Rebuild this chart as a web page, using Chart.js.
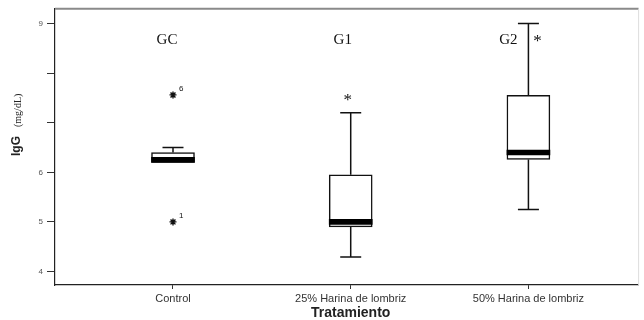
<!DOCTYPE html>
<html>
<head>
<meta charset="utf-8">
<script src="https://cdn.jsdelivr.net/npm/chart.js@4/dist/chart.umd.min.js"></script>
<style>
  html, body { margin: 0; padding: 0; background: #ffffff; }
  #wrap { width: 644px; height: 320px; position: relative; }
</style>
</head>
<body>
<div id="wrap"><canvas id="boxChart"></canvas></div>
<script>
const categories = ['Control', '25% Harina de lombriz', '50% Harina de lombriz'];
const groupLabels = ['GC', 'G1', 'G2'];

// box plot summaries per group (IgG mg/dL)
const whiskerLow = [6.20, 4.29, 5.25];
const quartile1 = [6.20, 4.90, 6.26];
const medians = [6.25, 5.00, 6.40];
const quartile3 = [6.40, 5.95, 7.55];
const whiskerHigh = [6.50, 7.20, 9.00];

// outliers (group index is 1-based), with case numbers
const outlierGroup = [1, 1];
const outlierValue = [7.56, 5.00];
const outlierCase = ['6', '1'];

// significance asterisks
const sigGroup = [2, 3];
const sigValue = [7.50, 8.70];

const yTicks = [4, 5, 6, 7, 8, 9];
const yTickLabels = ['4', '5', '6', '', '', '9'];

const BOX_WIDTH = 43;
const CAP_WIDTH = 21;

const boxExtras = {
  id: 'boxExtras',
  beforeDatasetsDraw(chart) {
    const { ctx, scales: { x, y } } = chart;
    ctx.save();
    ctx.strokeStyle = '#111111';
    ctx.lineWidth = 1.5;
    categories.forEach((_, i) => {
      const cx = x.getPixelForValue(i + 1);
      const segments = [
        [quartile3[i], whiskerHigh[i]],
        [quartile1[i], whiskerLow[i]],
      ];
      segments.forEach(([from, to]) => {
        if (Math.abs(to - from) < 0.001) {
          return;
        }
        const y0 = y.getPixelForValue(from);
        const y1 = y.getPixelForValue(to);
        ctx.beginPath();
        ctx.moveTo(cx, y0);
        ctx.lineTo(cx, y1);
        ctx.moveTo(cx - CAP_WIDTH / 2, y1);
        ctx.lineTo(cx + CAP_WIDTH / 2, y1);
        ctx.stroke();
      });
    });
    ctx.restore();
  },
  afterDraw(chart) {
    const { ctx, chartArea, scales: { x, y } } = chart;
    ctx.save();

    // frame: top and right edges
    ctx.strokeStyle = '#8a8a8a';
    ctx.lineWidth = 2;
    ctx.beginPath();
    ctx.moveTo(chartArea.left, chartArea.top);
    ctx.lineTo(chartArea.right, chartArea.top);
    ctx.stroke();
    ctx.strokeStyle = '#dddddd';
    ctx.lineWidth = 1;
    ctx.beginPath();
    ctx.moveTo(chartArea.right, chartArea.top);
    ctx.lineTo(chartArea.right, chartArea.bottom);
    ctx.stroke();

    // group labels
    const labelShift = [-6, -8, -20];
    ctx.fillStyle = '#111111';
    ctx.font = '15px "Liberation Serif", "Times New Roman", serif';
    ctx.textAlign = 'center';
    ctx.textBaseline = 'middle';
    groupLabels.forEach((label, i) => {
      ctx.fillText(label, x.getPixelForValue(i + 1) + labelShift[i], 40);
    });

    // significance asterisks
    const sigShift = [-3, 9];
    ctx.font = '17px "Liberation Serif", "Times New Roman", serif';
    sigGroup.forEach((g, i) => {
      ctx.fillText('*', x.getPixelForValue(g) + sigShift[i], y.getPixelForValue(sigValue[i]) + 3);
    });

    // outlier case numbers
    ctx.font = '8px "Liberation Sans", Arial, sans-serif';
    ctx.textAlign = 'left';
    outlierGroup.forEach((g, i) => {
      ctx.fillText(outlierCase[i], x.getPixelForValue(g) + 6, y.getPixelForValue(outlierValue[i]) - 6);
    });

    // x axis title
    ctx.font = 'bold 14px "Liberation Sans", Arial, sans-serif';
    ctx.textAlign = 'center';
    ctx.fillStyle = '#222222';
    ctx.fillText('Tratamiento', x.getPixelForValue(2), 313);

    // y axis title, rotated
    ctx.translate(20, 156);
    ctx.rotate(-Math.PI / 2);
    ctx.textAlign = 'left';
    ctx.textBaseline = 'alphabetic';
    ctx.font = 'bold 12px "Liberation Sans", Arial, sans-serif';
    ctx.fillText('IgG', 0, 0);
    const igWidth = ctx.measureText('IgG').width;
    ctx.font = '10px "Liberation Serif", "Times New Roman", serif';
    ctx.fillText('(mg/dL)', igWidth + 9, 1);

    ctx.restore();
  },
};

document.addEventListener('DOMContentLoaded', () => {
  const canvas = document.getElementById('boxChart');
  canvas.width = 644;
  canvas.height = 320;

  new Chart(canvas.getContext('2d'), {
    type: 'bar',
    data: {
      datasets: [
        {
          label: 'Caja',
          data: categories.map((_, i) => ({ x: i + 1, y: [quartile1[i], quartile3[i]] })),
          backgroundColor: '#ffffff',
          borderColor: '#111111',
          borderWidth: 1.5,
          borderSkipped: false,
          barThickness: BOX_WIDTH,
          grouped: false,
          order: 3,
        },
        {
          label: 'Mediana',
          data: categories.map((_, i) => ({ x: i + 1, y: [medians[i] - 0.05, medians[i] + 0.05] })),
          backgroundColor: '#000000',
          borderWidth: 0,
          barThickness: BOX_WIDTH,
          grouped: false,
          order: 2,
        },
        {
          type: 'scatter',
          label: 'Atípicos',
          data: outlierGroup.map((g, i) => ({ x: g, y: outlierValue[i] })),
          pointStyle: 'star',
          radius: 3.5,
          borderColor: '#111111',
          backgroundColor: '#111111',
          borderWidth: 1.4,
          order: 1,
        },
      ],
    },
    options: {
      responsive: false,
      animation: false,
      layout: { padding: { top: 8, right: 3, left: 0, bottom: 0 } },
      plugins: {
        legend: { display: false },
        tooltip: { enabled: false },
      },
      scales: {
        x: {
          type: 'linear',
          min: 0.336,
          max: 3.62,
          offset: false,
          afterFit: (scale) => { scale.height = 35; },
          afterBuildTicks: (scale) => {
            scale.ticks = categories.map((_, i) => ({ value: i + 1 }));
          },
          grid: { offset: false, drawOnChartArea: false, drawTicks: true, tickLength: 4, color: '#333333' },
          border: { display: true, color: '#222222', width: 1.2 },
          ticks: {
            autoSkip: false,
            maxRotation: 0,
            padding: 3,
            color: '#333333',
            font: { family: '"Liberation Sans", Arial, sans-serif', size: 11 },
            callback: (value) => categories[value - 1] ?? '',
          },
        },
        y: {
          min: 3.728,
          max: 9.296,
          afterFit: (scale) => { scale.width = 55; },
          afterBuildTicks: (scale) => {
            scale.ticks = yTicks.map((v) => ({ value: v }));
          },
          grid: { drawOnChartArea: false, drawTicks: true, tickLength: 8, color: '#333333' },
          border: { display: true, color: '#222222', width: 1.2 },
          ticks: {
            padding: 4,
            color: '#555555',
            font: { family: '"Liberation Sans", Arial, sans-serif', size: 8 },
            callback: (value, index) => yTickLabels[index] ?? '',
          },
        },
      },
    },
    plugins: [boxExtras],
  });
});
</script>
</body>
</html>
